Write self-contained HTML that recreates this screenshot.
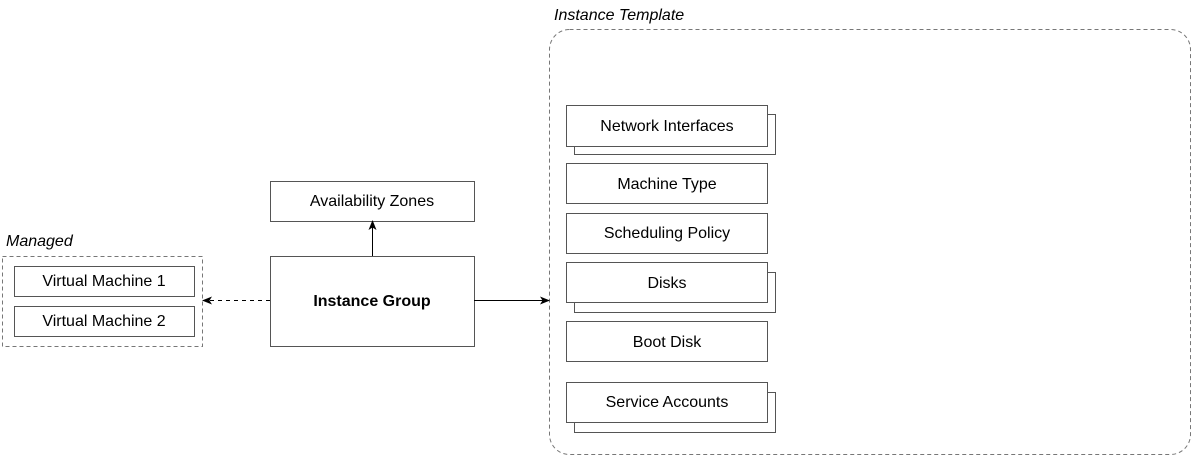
<!DOCTYPE html>
<html><head><style>
body{margin:0;background:#fff;width:1193px;height:456px;overflow:hidden}
svg text{font-family:"Liberation Sans",Arial,sans-serif;font-size:16px;fill:#000}
</style></head><body>
<svg width="1193" height="456" viewBox="0 0 1193 456">
<defs><marker id="a" markerWidth="10" markerHeight="10" refX="9" refY="5" orient="auto" markerUnits="userSpaceOnUse"><path d="M0,1 L10,5 L0,9 L2.5,5 Z" fill="#000"/></marker></defs>
<g fill="#fff" stroke="#555" stroke-width="1">
<rect x="549.5" y="29.5" width="641" height="425" rx="20" stroke-dasharray="4,3" stroke="#777"/>
<rect x="2.5" y="256.5" width="200" height="90" stroke-dasharray="4,3" stroke="#777"/>
<rect x="14.5" y="266.5" width="180" height="30"/>
<rect x="14.5" y="306.5" width="180" height="30"/>
<rect x="270.5" y="181.5" width="204" height="40"/>
<rect x="270.5" y="256.5" width="204" height="90"/>
<rect x="574.5" y="114.5" width="201" height="40"/>
<rect x="566.5" y="105.5" width="201" height="41"/>
<rect x="566.5" y="163.5" width="201" height="40"/>
<rect x="566.5" y="213.5" width="201" height="40"/>
<rect x="574.5" y="272.5" width="201" height="40"/>
<rect x="566.5" y="262.5" width="201" height="40"/>
<rect x="566.5" y="321.5" width="201" height="40"/>
<rect x="574.5" y="392.5" width="201" height="40"/>
<rect x="566.5" y="382.5" width="201" height="40"/>
</g>
<g stroke="#000" stroke-width="1">
<line x1="270" y1="300.5" x2="203" y2="300.5" stroke-dasharray="4,4" marker-end="url(#a)"/>
<line x1="474" y1="300.5" x2="549" y2="300.5" marker-end="url(#a)"/>
<line x1="372.5" y1="256" x2="372.5" y2="221" marker-end="url(#a)"/>
</g>
<text x="554" y="20" font-style="italic">Instance Template</text>
<text x="6" y="246" font-style="italic">Managed</text>
<g text-anchor="middle">
<text x="104" y="286">Virtual Machine 1</text>
<text x="104" y="326">Virtual Machine 2</text>
<text x="372" y="206">Availability Zones</text>
<text x="372" y="306" font-weight="bold">Instance Group</text>
<text x="667" y="131">Network Interfaces</text>
<text x="667" y="189">Machine Type</text>
<text x="667" y="238">Scheduling Policy</text>
<text x="667" y="288">Disks</text>
<text x="667" y="347">Boot Disk</text>
<text x="667" y="407">Service Accounts</text>
</g>
</svg>
</body></html>
